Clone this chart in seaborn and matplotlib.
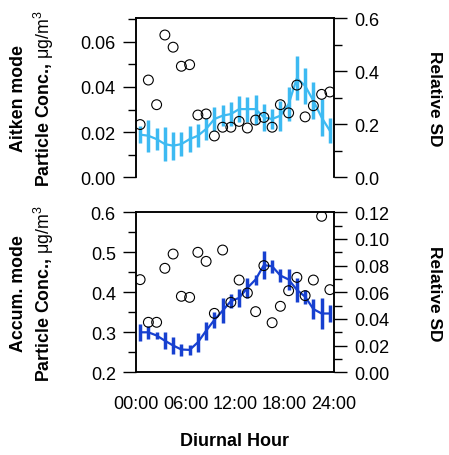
import numpy as np
import pandas as pd
import matplotlib
matplotlib.use("Agg")
import matplotlib.pyplot as plt
from matplotlib.ticker import MultipleLocator, FormatStrFormatter, FixedLocator
import seaborn as sns

# ---------------- data ----------------
hours = np.arange(24) + 0.5

aitken_conc = [0.0189, 0.0184, 0.0169, 0.0147, 0.0140, 0.0147, 0.0169, 0.0184,
               0.0214, 0.0258, 0.0273, 0.0280, 0.0302, 0.0302, 0.0302, 0.0265,
               0.0258, 0.0273, 0.0324, 0.0439, 0.0405, 0.0339, 0.0265, 0.0206]
aitken_err = [0.0037, 0.0071, 0.0048, 0.0077, 0.0062, 0.0052, 0.0059, 0.0052,
              0.0047, 0.0055, 0.0047, 0.0052, 0.0059, 0.0055, 0.0064, 0.0059,
              0.0044, 0.0066, 0.0074, 0.0097, 0.0081, 0.0081, 0.0081, 0.0055]
aitken_rsd = [0.199, 0.367, 0.274, 0.537, 0.491, 0.419, 0.425, 0.235,
              0.239, 0.156, 0.189, 0.189, 0.211, 0.186, 0.216, 0.226,
              0.189, 0.274, 0.243, 0.348, 0.228, 0.270, 0.313, 0.322]

accum_conc = [0.300, 0.300, 0.292, 0.279, 0.267, 0.257, 0.256, 0.275,
              0.304, 0.331, 0.354, 0.378, 0.386, 0.411, 0.432, 0.468,
              0.465, 0.442, 0.432, 0.406, 0.389, 0.358, 0.347, 0.347]
accum_err = [0.021, 0.017, 0.008, 0.021, 0.021, 0.015, 0.0125, 0.023,
             0.023, 0.019, 0.031, 0.017, 0.023, 0.025, 0.0125, 0.035,
             0.017, 0.017, 0.027, 0.029, 0.017, 0.025, 0.039, 0.021]
accum_rsd = [0.0695, 0.0375, 0.0375, 0.078, 0.0887, 0.057, 0.0562, 0.090,
             0.0832, 0.0442, 0.0917, 0.0525, 0.0692, 0.0595, 0.0455, 0.080,
             0.0372, 0.0495, 0.0612, 0.0712, 0.0575, 0.0692, 0.117, 0.062]

xtick_vals = [0, 6, 12, 18, 24]
xtick_labels = ["00:00", "06:00", "12:00", "18:00", "24:00"]

df = pd.DataFrame({
    "hour": hours,
    "aitken_conc": aitken_conc, "aitken_err": aitken_err, "aitken_rsd": aitken_rsd,
    "accum_conc": accum_conc, "accum_err": accum_err, "accum_rsd": accum_rsd,
})

# ---------------- style ----------------
sns.set_style("white")
plt.rcParams["font.family"] = ["Liberation Sans", "DejaVu Sans"]
plt.rcParams["mathtext.fontset"] = "custom"
plt.rcParams["mathtext.rm"] = "Liberation Sans"
plt.rcParams["mathtext.it"] = "Liberation Sans:italic"
plt.rcParams["mathtext.bf"] = "Liberation Sans:bold"
plt.rcParams["axes.linewidth"] = 1.1
plt.rcParams["text.color"] = "black"
plt.rcParams["axes.labelcolor"] = "black"

TICK_FS = 13
LAB_FS = 12.8
light_blue = "#3DBAF2"
dark_blue = "#1740D0"

W, H = 449, 456
fig = plt.figure(figsize=(W / 100, H / 100), dpi=100)

def px_axes(left, top, right, bottom):
    return fig.add_axes([left / W, 1 - bottom / H, (right - left) / W, (bottom - top) / H])

ax1 = px_axes(136, 19.3, 334, 178.3)
ax3 = px_axes(136, 213.3, 334, 373.3)


def style_ticks(ax, axis="both"):
    ax.tick_params(axis=axis, which="major", direction="out", length=9.5, width=1.0,
                   labelsize=TICK_FS, color="black", labelcolor="black", pad=5)
    ax.tick_params(axis=axis, which="minor", direction="out", length=6, width=1.0,
                   color="black")


def draw_panel(ax, conc_col, err_col, rsd_col, color):
    ax.errorbar(df["hour"], df[conc_col], yerr=df[err_col], fmt="none",
                ecolor=color, elinewidth=2.5, capsize=0, zorder=2)
    sns.lineplot(data=df, x="hour", y=conc_col, ax=ax, color=color, lw=1.6,
                 zorder=3, legend=False)
    ax.set_xlim(0, 24)
    axr = ax.twinx()
    sns.scatterplot(data=df, x="hour", y=rsd_col, ax=axr, marker="o", s=50,
                    facecolor="none", edgecolor="black", linewidth=0.8,
                    zorder=4, legend=False)
    axr.set_xlim(0, 24)
    return axr


# ---------------- top panel ----------------
ax2 = draw_panel(ax1, "aitken_conc", "aitken_err", "aitken_rsd", light_blue)
ax1.set_ylim(0, 0.0704)
ax1.yaxis.set_major_locator(FixedLocator([0, 0.02, 0.04, 0.06]))
ax1.yaxis.set_minor_locator(MultipleLocator(0.01))
ax1.yaxis.set_major_formatter(FormatStrFormatter("%.2f"))
ax2.set_ylim(0, 0.6)
ax2.yaxis.set_major_locator(MultipleLocator(0.2))
ax2.yaxis.set_minor_locator(MultipleLocator(0.1))
ax2.yaxis.set_major_formatter(FormatStrFormatter("%.1f"))
for a in (ax1, ax2):
    a.spines["bottom"].set_visible(False)
    a.set_xticks([])
    a.set_xlabel("")
    a.tick_params(axis="x", which="both", bottom=False, labelbottom=False)
style_ticks(ax1, "y")
style_ticks(ax2, "y")

# ---------------- bottom panel ----------------
ax4 = draw_panel(ax3, "accum_conc", "accum_err", "accum_rsd", dark_blue)
ax3.set_ylim(0.2, 0.6)
ax3.yaxis.set_major_locator(MultipleLocator(0.1))
ax3.yaxis.set_minor_locator(MultipleLocator(0.05))
ax3.yaxis.set_major_formatter(FormatStrFormatter("%.1f"))
ax4.set_ylim(0, 0.12)
ax4.yaxis.set_major_locator(MultipleLocator(0.02))
ax4.yaxis.set_minor_locator(MultipleLocator(0.01))
ax4.yaxis.set_major_formatter(FormatStrFormatter("%.2f"))
ax3.set_xticks(xtick_vals)
ax3.set_xticklabels(xtick_labels)
ax3.xaxis.set_minor_locator(MultipleLocator(1))
style_ticks(ax3, "both")
ax3.tick_params(axis="x", which="major", length=7, pad=9)
ax3.tick_params(axis="x", which="minor", length=4)
style_ticks(ax4, "y")
ax4.tick_params(axis="x", which="both", bottom=False, labelbottom=False)
ax4.set_xlabel("")

for a in (ax1, ax2, ax3, ax4):
    for s in a.spines.values():
        s.set_color("black")
        s.set_linewidth(1.1)

# ---------------- labels ----------------
top_label = "Aitken mode\nParticle Conc., $\\mathrm{μg/m^3}$"
bot_label = "Accum. mode\nParticle Conc., $\\mathrm{μg/m^3}$"
for a, lab in ((ax1, top_label), (ax3, bot_label)):
    a.set_ylabel(lab, fontsize=LAB_FS, fontweight="bold", ha="center", va="center",
                 linespacing=1.25, color="black")
    a.yaxis.set_label_coords(-0.52, 0.5)
for a in (ax2, ax4):
    a.set_ylabel("Relative SD", fontsize=12.5, fontweight="bold", rotation=270,
                 ha="center", va="center", color="black")
    a.yaxis.set_label_coords(1.51, 0.5)

ax3.set_xlabel("Diurnal Hour", fontsize=13, fontweight="bold", labelpad=15,
               color="black")

fig.savefig("out.png", dpi=100)
